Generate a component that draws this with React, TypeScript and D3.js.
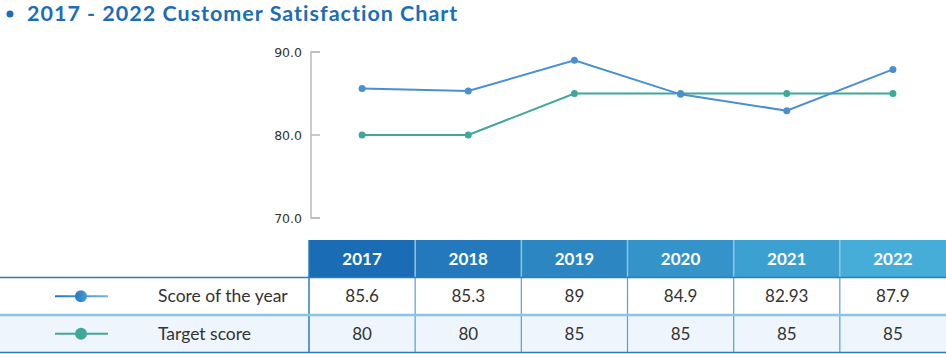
import React from 'react';
import * as d3 from 'd3';

const years = ['2017', '2018', '2019', '2020', '2021', '2022'];
const scoreOfYear = [85.6, 85.3, 89, 84.9, 82.93, 87.9];
const targetScore = [80, 80, 85, 85, 85, 85];
const yTicks = [70, 80, 90];
const seriesNames = ['Score of the year', 'Target score'];

const width = 946;
const height = 354;
const font = 'Lato, "Noto Sans", sans-serif';
const blue = '#4a8fd0';
const teal = '#3fa89a';
const titleBlue = '#1b6db5';

const tableLeft = 309;
const headerTop = 240;
const rowH = 37.5;

export default function App() {
  const x = d3.scaleBand().domain(years).range([tableLeft, width]);
  const y = d3.scaleLinear().domain([70, 90]).range([218, 52]);
  const cx = (yr: string) => (x(yr) as number) + x.bandwidth() / 2;

  const line = d3.line<number>()
    .x((d, i) => cx(years[i]))
    .y(d => y(d));

  const headerColor = d3.scaleLinear<string>()
    .domain([0, years.length - 1])
    .range(['#1a6cb4', '#45add7']);

  const row1Top = headerTop + rowH;
  const row2Top = row1Top + rowH;

  const series = [
    { name: seriesNames[0], values: scoreOfYear, color: blue, top: row1Top },
    { name: seriesNames[1], values: targetScore, color: teal, top: row2Top },
  ];

  return (
    <svg width={width} height={height} style={{ position: 'absolute', left: 0, top: 0 }} fontFamily={font}>
      <defs>
        <linearGradient id="legScore" gradientUnits="userSpaceOnUse" x1="55" x2="108" y1="0" y2="0">
          <stop offset="0" stopColor="#2a76c0" />
          <stop offset="1" stopColor="#6cb8e2" />
        </linearGradient>
        <linearGradient id="dotScore" gradientUnits="userSpaceOnUse" x1="75" x2="87" y1="0" y2="0">
          <stop offset="0" stopColor="#2a76c0" />
          <stop offset="1" stopColor="#4a9ad6" />
        </linearGradient>
      </defs>

      {/* title */}
      <circle cx={10} cy={14} r={3.5} fill={titleBlue} />
      <text x={27} y={21} fontSize={21.5} fontWeight="bold" letterSpacing={1} fill={titleBlue}>
        2017 - 2022 Customer Satisfaction Chart
      </text>

      {/* y axis */}
      <path d={`M320,${y(90)}H311V${y(70)}H320`} fill="none" stroke="#bbb" strokeWidth={1.5} />
      {yTicks.map(t => (
        <g key={t}>
          <line x1={311} x2={320} y1={y(t)} y2={y(t)} stroke="#bbb" strokeWidth={1.5} />
          <text x={302} y={y(t) + 4.5} textAnchor="end" fontSize={12.5} fontFamily='"DejaVu Sans", sans-serif' fill="#333">{t.toFixed(1)}</text>
        </g>
      ))}

      {/* lines */}
      {series.slice().reverse().map(s => (
        <g key={s.name}>
          <path d={line(s.values) || ''} fill="none" stroke={s.color} strokeWidth={2} />
          {s.values.map((v, i) => (
            <circle key={i} cx={cx(years[i])} cy={y(v)} r={3.5} fill={s.color} />
          ))}
        </g>
      ))}

      {/* table header */}
      {years.map((yr, i) => (
        <g key={yr}>
          <rect x={x(yr)} y={headerTop} width={x.bandwidth()} height={rowH} fill={headerColor(i)} />
          <text x={cx(yr)} y={headerTop + rowH / 2 + 6} textAnchor="middle" fontSize={17} fontWeight="bold" fill="#fff">{yr}</text>
        </g>
      ))}
      {years.slice(1).map(yr => (
        <line key={yr} x1={x(yr)} x2={x(yr)} y1={headerTop} y2={row1Top} stroke="#8cc6e8" strokeWidth={1.5} />
      ))}

      {/* body rows */}
      <rect x={0} y={row2Top} width={width} height={rowH} fill="#eef5fc" />
      {series.map((s, si) => (
        <g key={s.name}>
          <line x1={55} x2={108} y1={s.top + rowH / 2} y2={s.top + rowH / 2}
            stroke={si === 0 ? 'url(#legScore)' : s.color} strokeWidth={2} />
          <circle cx={81} cy={s.top + rowH / 2} r={6} fill={si === 0 ? 'url(#dotScore)' : s.color} />
          <text x={158} y={s.top + rowH / 2 + 6} fontSize={17.5} fill="#333">{s.name}</text>
          {s.values.map((v, i) => (
            <text key={i} x={cx(years[i])} y={s.top + rowH / 2 + 6} textAnchor="middle" fontSize={17} fill="#333">{v}</text>
          ))}
        </g>
      ))}

      {/* grid lines */}
      {years.slice(1).map(yr => (
        <line key={yr} x1={x(yr)} x2={x(yr)} y1={row1Top} y2={height - 1} stroke="#5a9fd6" strokeWidth={1.2} />
      ))}
      <line x1={tableLeft} x2={tableLeft} y1={headerTop} y2={height - 1} stroke="#2a7bc0" strokeWidth={1.5} />
      <line x1={0} x2={width} y1={row1Top} y2={row1Top} stroke="#2a7bc0" strokeWidth={1.5} />
      <line x1={0} x2={width} y1={row2Top} y2={row2Top} stroke="#8cc4e6" strokeWidth={2.5} />
      <line x1={0} x2={width} y1={height - 1.5} y2={height - 1.5} stroke="#2a7bc0" strokeWidth={1.5} />
    </svg>
  );
}
